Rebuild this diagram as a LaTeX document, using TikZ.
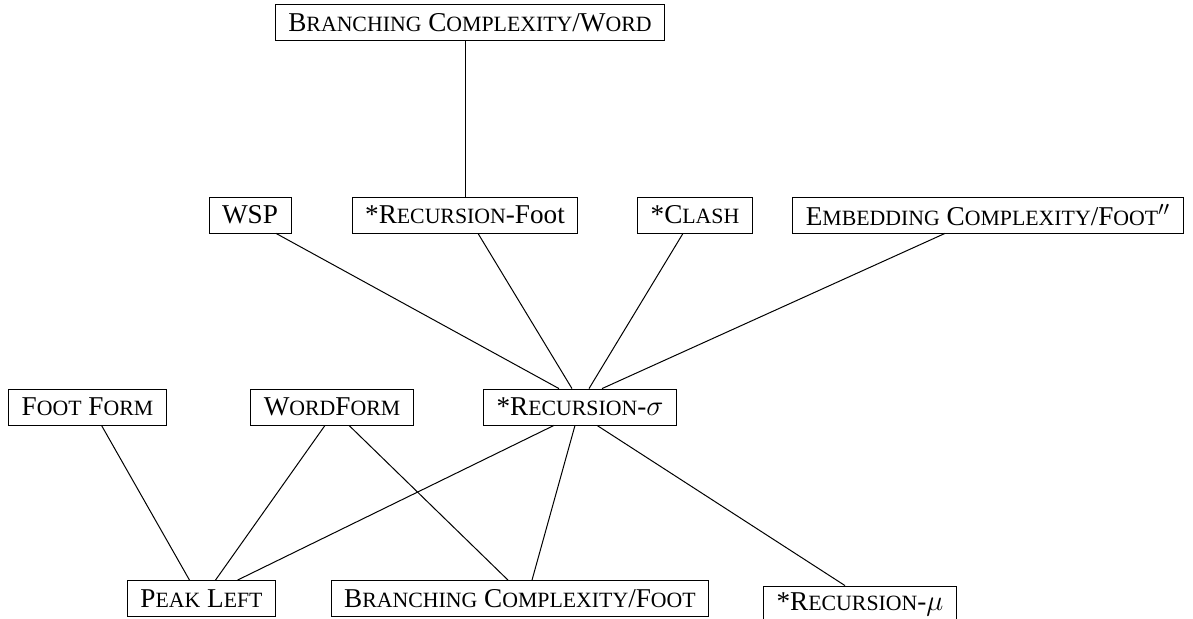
\documentclass[tikz,border=0pt]{standalone}
\usepackage{fontspec}
\setmainfont{Liberation Serif}
\usepackage{tikz}
\newcommand{\sm}[1]{{\fontsize{10.9}{12}\selectfont #1}}

\begin{document}
\begin{tikzpicture}[x=0.5pt, y=-0.5pt]
        \tikzstyle{every node} = [font=\fontsize{13.6}{15}\selectfont]
        \tikzstyle{con} = [draw, inner xsep=6.5pt, inner ysep=0pt, minimum height=18pt]
        \tikzstyle{edge} = [draw, line width=0.5pt]

        \def\niva{22.5}
        \def\nivb{215}
        \def\nivc{407}
        \def\nivd{598.5}

        \useasboundingbox (0,0) rectangle (1193,619);

        \node[con] (bcword) at (470,\niva) {B\sm{RANCHING} C\sm{OMPLEXITY}/W\sm{ORD}};

        \node[con] (wsp)   at (250,\nivb) {WSP};
        \node[con] (rfoot) at (465,\nivb) {*R\sm{ECURSION}-Foot};
        \node[con] (clash) at (695,\nivb) {*C\sm{LASH}};
        \node[con] (embed) at (988,\nivb) {E\sm{MBEDDING} C\sm{OMPLEXITY}/F\sm{OOT}$''$};

        \node[con] (fform) at (87.5,\nivc) {F\sm{OOT} F\sm{ORM}};
        \node[con] (wform) at (332,\nivc)  {W\sm{ORD}F\sm{ORM}};
        \node[con] (rsig)  at (580,\nivc)  {*R\sm{ECURSION}-$\sigma$};

        \node[con] (peak)  at (201.5,\nivd) {P\sm{EAK} L\sm{EFT}};
        \node[con] (bcfoot) at (520,\nivd)  {B\sm{RANCHING} C\sm{OMPLEXITY}/F\sm{OOT}};
        \node[con] (rmu)   at (860,604)     {*R\sm{ECURSION}-$\mu$};

        % upper part
        \path[edge] (rfoot.north) -- (rfoot.north |- bcword.south);
        \path[edge] ([xshift=13pt]wsp.south) -- ([xshift=-10.5pt]rsig.north);
        \path[edge] ([xshift=6.5pt]rfoot.south) -- ([xshift=-4pt]rsig.north);
        \path[edge] ([xshift=-6pt]clash.south) -- ([xshift=4.5pt]rsig.north);
        \path[edge] ([xshift=-21.5pt]embed.south) -- ([xshift=11pt]rsig.north);

        % lower part
        \path[edge] ([xshift=-13pt]rsig.south) -- ([xshift=18pt]peak.north);
        \path[edge] ([xshift=-2.5pt]rsig.south) -- ([xshift=6pt]bcfoot.north);
        \path[edge] ([xshift=8.5pt]rsig.south) -- ([xshift=-7.5pt]rmu.north);
        \path[edge] ([xshift=7pt]fform.south) -- ([xshift=-6pt]peak.north);
        \path[edge] ([xshift=-3.5pt]wform.south) -- ([xshift=7pt]peak.north);
        \path[edge] ([xshift=8.5pt]wform.south) -- ([xshift=-6pt]bcfoot.north);
    \end{tikzpicture}
\end{document}
